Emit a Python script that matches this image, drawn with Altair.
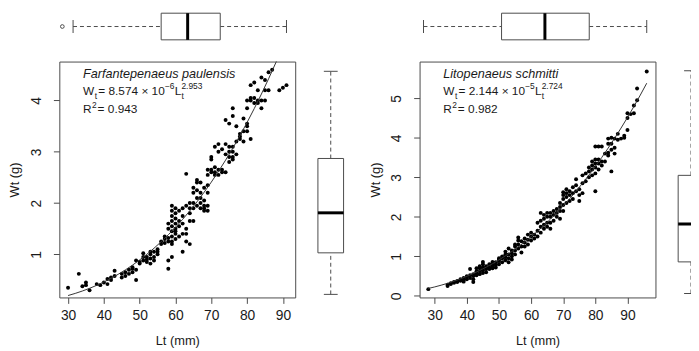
import altair as alt
import pandas as pd

FONT = "Liberation Sans"
INK = "#1a1a1a"
FRAME = "#4a4a4a"

# ---------------- data ----------------
x_ticks = [30, 40, 50, 60, 70, 80, 90]
p1_y_ticks = [1, 2, 3, 4]
p2_y_ticks = [0, 1, 2, 3, 4, 5]

# Farfantepenaeus paulensis : total length (mm) / total weight (g)
p1_lt = [
    30, 33, 34, 35, 35, 36, 38, 39, 40, 41, 41, 42, 42, 43, 43,
    45, 45, 46, 46, 47, 47, 48, 48, 48, 49, 49, 49, 50, 50,
    51, 51, 51, 52, 52, 52, 53, 53, 53, 53, 54, 54, 54, 55, 55, 55,
    56, 56, 57, 57, 57, 58, 58, 58, 58, 58, 58,
    59, 59, 59, 59, 59, 59, 59, 59, 59, 59,
    60, 60, 60, 60, 60, 60, 60, 60,
    61, 61, 61, 61,
    62, 62, 62, 62, 62,
    63, 63, 63, 63, 63,
    64, 64, 64, 64, 64,
    65, 65, 65, 65, 65,
    66, 66, 66, 66, 66,
    67, 67, 67, 67, 67,
    68, 68, 68, 68, 68,
    69, 69, 69, 69, 69, 69,
    70, 70, 70, 70,
    71, 71, 71, 71,
    72, 72, 72, 72,
    73, 73, 73,
    74, 74, 74, 74,
    75, 75, 75, 75, 75,
    76, 76, 76, 76, 76, 76,
    77, 77, 77,
    78, 78, 78,
    79, 79, 79,
    80, 80, 80, 80, 80,
    81, 81, 81, 81,
    82, 82, 82,
    83, 83, 83,
    84, 84, 84,
    85, 85, 85,
    86, 86,
    87, 89, 90, 91,
]
p1_wt = [
    0.35, 0.62, 0.38, 0.45, 0.40, 0.30, 0.42, 0.40, 0.45, 0.42, 0.52, 0.50, 0.55, 0.58, 0.68,
    0.55, 0.62, 0.58, 0.65, 0.62, 0.70, 0.65, 0.75, 0.72, 0.50, 0.70, 0.88, 0.85, 0.82,
    0.88, 0.95, 1.02, 0.90, 0.85, 0.95, 0.82, 0.92, 1.00, 1.05, 0.95, 1.05, 0.88, 1.05, 1.00, 1.10,
    1.20, 1.25, 1.22, 1.30, 1.35, 0.72, 0.88, 1.25, 1.32, 1.50, 1.60,
    0.95, 1.20, 1.25, 1.35, 1.45, 1.55, 1.65, 1.75, 1.85, 1.95,
    1.30, 1.40, 1.45, 1.50, 1.60, 1.70, 1.80, 1.90,
    1.35, 1.55, 1.65, 1.85,
    1.05, 1.40, 1.60, 1.75, 1.90,
    1.25, 1.40, 1.50, 1.95, 2.57,
    1.20, 1.65, 1.80, 1.90, 2.00,
    1.65, 1.90, 2.00, 2.20, 2.30,
    1.95, 2.10, 2.25, 2.40, 2.45,
    1.90, 2.00, 2.10, 2.20, 2.40,
    1.85, 1.90, 1.95, 2.05, 2.30,
    1.85, 1.95, 2.20, 2.35, 2.55, 2.65,
    2.60, 2.65, 2.85, 2.90,
    2.55, 2.60, 2.70, 3.10,
    2.55, 2.65, 3.00, 3.15,
    2.60, 2.65, 3.05,
    2.60, 2.95, 3.15, 3.62,
    2.80, 2.90, 3.00, 3.10, 3.55,
    2.85, 2.90, 3.00, 3.10, 3.70, 3.85,
    2.95, 3.20, 3.50,
    3.25, 3.30, 3.35,
    3.20, 3.40, 3.65,
    3.40, 3.50, 3.55, 3.85, 4.00,
    3.25, 4.00, 4.05, 4.30,
    3.95, 4.05, 4.35,
    3.95, 4.00, 4.20,
    3.85, 4.00, 4.45,
    4.00, 4.20, 4.40,
    4.20, 4.55,
    4.60, 4.20, 4.25, 4.30,
]

# Litopenaeus schmitti
p2_lt = [
    28, 34, 34, 35, 35, 36, 36, 37, 37, 38, 38,
    39, 39, 39, 40, 40, 40, 41, 41, 41,
    42, 42, 42, 42, 43, 43, 43, 43, 44, 44, 44, 44,
    45, 45, 45, 45, 45, 46, 46, 46, 46, 47, 47, 47,
    48, 48, 48, 48, 49, 49, 49, 50, 50, 50, 50,
    51, 51, 51, 52, 52, 52, 52, 53, 53, 53, 53,
    54, 54, 54, 54, 55, 55, 55, 55, 56, 56, 56, 56,
    57, 57, 57, 58, 58, 58, 59, 59, 59, 60, 60, 60,
    61, 61, 62, 62, 62, 63, 63, 63, 63,
    64, 64, 64, 64, 65, 65, 65, 65, 66, 66, 66, 66,
    67, 67, 67, 68, 68, 68, 69, 69, 69, 69,
    70, 70, 70, 70, 70, 71, 71, 71, 71, 72, 72, 72,
    73, 73, 73, 74, 74, 74, 75, 75, 75, 76, 76, 76,
    77, 77, 78, 78, 78, 79, 79, 79, 79,
    80, 80, 80, 80, 80, 80, 81, 81, 81, 81, 82, 82, 82,
    83, 83, 84, 84, 84, 84, 85, 85, 85, 85, 86, 86, 86,
    87, 87, 88, 89, 89, 90, 90, 90, 91, 92, 92, 93, 93, 96,
]
p2_wt = [
    0.17, 0.25, 0.28, 0.30, 0.32, 0.33, 0.35, 0.35, 0.38, 0.38, 0.42,
    0.36, 0.40, 0.45, 0.42, 0.48, 0.50, 0.45, 0.52, 0.68,
    0.35, 0.42, 0.50, 0.55, 0.52, 0.58, 0.62, 0.70, 0.55, 0.62, 0.70, 0.75,
    0.58, 0.65, 0.72, 0.80, 0.86, 0.60, 0.68, 0.70, 0.75, 0.68, 0.72, 0.80,
    0.70, 0.76, 0.82, 0.86, 0.72, 0.78, 0.85, 0.80, 0.88, 0.92, 0.95,
    0.85, 0.95, 1.00, 0.90, 0.98, 1.05, 1.12, 0.85, 0.95, 1.05, 1.20,
    0.92, 1.00, 1.08, 1.15, 1.05, 1.15, 1.25, 1.30, 1.20, 1.30, 1.40, 1.48,
    1.10, 1.25, 1.38, 1.25, 1.35, 1.45, 1.30, 1.42, 1.55, 1.40, 1.50, 1.60,
    1.45, 1.55, 1.50, 1.65, 1.85, 1.60, 1.75, 1.90, 2.10,
    1.70, 1.80, 1.95, 2.05, 1.75, 1.85, 2.00, 2.10, 1.70, 1.85, 2.00, 2.10,
    1.90, 2.05, 2.15, 2.00, 2.10, 2.20, 1.95, 2.15, 2.25, 2.35,
    2.15, 2.30, 2.45, 2.55, 2.62, 2.35, 2.50, 2.60, 2.70, 2.40, 2.55, 2.65,
    2.45, 2.60, 2.75, 2.65, 2.80, 2.95, 2.40, 2.55, 2.70, 2.60, 2.85, 3.05,
    2.90, 3.10, 3.00, 3.15, 3.25, 3.05, 3.20, 3.30, 3.40,
    2.65, 3.10, 3.25, 3.35, 3.45, 3.78, 3.20, 3.35, 3.45, 3.78, 3.30, 3.40, 3.78,
    3.40, 3.60, 3.55, 3.62, 3.85, 3.98, 3.15, 3.70, 3.85, 4.00, 3.60, 3.75, 3.98,
    3.95, 4.10, 3.98, 4.00, 4.05, 4.20, 4.50, 4.62, 4.60, 4.62, 4.82, 4.95, 5.25, 5.68,
]

# fitted length-weight model  Wt = a * Lt^b
p1_a, p1_b = 8.574e-6, 2.953
p2_a, p2_b = 2.144e-5, 2.724
p1_curve_lt = [30, 32, 34, 36, 38, 40, 42, 44, 46, 48, 50, 52, 54, 56, 58, 60, 62, 64,
               66, 68, 70, 72, 74, 76, 78, 80, 82, 84, 86, 88, 90, 91]
p2_curve_lt = [28, 30, 32, 34, 36, 38, 40, 42, 44, 46, 48, 50, 52, 54, 56, 58, 60, 62, 64,
               66, 68, 70, 72, 74, 76, 78, 80, 82, 84, 86, 88, 90, 92, 94, 96]

# boxplot summaries: lower whisker, Q1, median, Q3, upper whisker
p1_lt_box = [31.4, 56.0, 63.4, 72.5, 91.0]
p1_lt_outliers = [28.4]
p1_wt_box = [0.22, 1.03, 1.81, 2.87, 4.57]
p2_lt_box = [26.5, 50.8, 64.3, 78.1, 96.0]
p2_wt_box = [0.06, 0.86, 1.82, 3.05, 5.70]

p1_species = "Farfantepenaeus paulensis"
p1_eq = ["W", "t", "= 8.574 × 10", "−6", "L", "t", "2.953"]
p1_r2 = ["R", "2", "= 0.943"]
p2_species = "Litopenaeus schmitti"
p2_eq = ["W", "t", "= 2.144 × 10", "−5", "L", "t", "2.724"]
p2_r2 = ["R", "2", "= 0.982"]

p1_xdom, p1_ydom = [27.56, 93.44], [0.16, 4.76]
p2_xdom, p2_ydom = [25.28, 98.72], [-0.04, 5.93]

# ---------------- layout / style ----------------
W = 239
H = 239
TOP_H = 33
RB1_W = 94   # column holding the first vertical boxplot (also sets gap to panel 2)
RB2_W = 20   # last column, cut at the page edge

EQ_LAYOUT = [(0, 0, 12), (12.0, 3.5, 8.5), (15.5, 0, 12), (83.0, -6.5, 8.5),
             (92.9, 0, 12), (99.7, 3.5, 8.5), (99.7, -6.5, 8.5)]
R2_LAYOUT = [(0, 0, 12), (9.0, -4.5, 8.5), (14.8, 0, 12)]
TX = 24
ROW_Y = [17, 34, 52]


def axis_x():
    return alt.Axis(values=x_ticks, title="Lt (mm)", grid=False, domain=False,
                    tickSize=6, tickColor=FRAME, tickWidth=1, labelFlush=False,
                    labelOverlap=False, tickCount=7,
                    labelFont=FONT, labelFontSize=14, labelColor=INK, labelPadding=5,
                    titleFont=FONT, titleFontSize=13, titleFontWeight="normal",
                    titleColor=INK, titlePadding=13)


def axis_y(vals):
    return alt.Axis(values=vals, title="Wt (g)", grid=False, domain=False,
                    tickSize=6, tickColor=FRAME, tickWidth=1, labelFlush=False,
                    labelOverlap=False, tickCount=len(vals),
                    labelAngle=270, labelAlign="center", labelBaseline="bottom",
                    labelFont=FONT, labelFontSize=14, labelColor=INK, labelPadding=10,
                    titleFont=FONT, titleFontSize=13, titleFontWeight="normal",
                    titleColor=INK, titlePadding=8)


def text_seg(txt, x, y, size, dx=0, dy=0, italic=False):
    return alt.Chart(pd.DataFrame({"t": [txt]})).mark_text(
        align="left", baseline="alphabetic", font=FONT, fontSize=size,
        fontStyle="italic" if italic else "normal", color=INK, dx=dx, dy=dy
    ).encode(x=alt.value(x), y=alt.value(y), text="t:N")


def scatter(lt, wt, xdom, ydom, yticks, a, b, curve_lt, species, eq, r2):
    xs = alt.Scale(domain=xdom, nice=False, zero=False, padding=0)
    ys = alt.Scale(domain=ydom, nice=False, zero=False, padding=0)
    pts = alt.Chart(pd.DataFrame({"Lt": lt, "Wt": wt})).mark_circle(
        size=16, color="black", opacity=1).encode(
        x=alt.X("Lt:Q", scale=xs, axis=axis_x()),
        y=alt.Y("Wt:Q", scale=ys, axis=axis_y(yticks)))
    crv = alt.Chart(pd.DataFrame({"Lt": curve_lt})).transform_calculate(
        Wt=f"{a} * pow(datum.Lt, {b})").mark_line(
        color="#333333", strokeWidth=1, clip=True).encode(
        x=alt.X("Lt:Q", scale=xs, axis=axis_x()),
        y=alt.Y("Wt:Q", scale=ys, axis=axis_y(yticks)))
    texts = [text_seg(species, TX, ROW_Y[0], 12.8, italic=True)]
    for part, (dx, dy, sz) in zip(eq, EQ_LAYOUT):
        texts.append(text_seg(part, TX, ROW_Y[1], sz, dx=dx, dy=dy))
    for part, (dx, dy, sz) in zip(r2, R2_LAYOUT):
        texts.append(text_seg(part, TX, ROW_Y[2], sz, dx=dx, dy=dy))
    return alt.layer(pts, crv, *texts).properties(
        width=W, height=H, view=alt.ViewBackground(stroke=FRAME, strokeWidth=1))


def hbox(stats, outl, xdom):
    lo, q1, md, q3, hi = stats
    xs = alt.Scale(domain=xdom, nice=False, zero=False, padding=0)
    ys = alt.Scale(domain=[0, 1], nice=False, zero=False, padding=0)
    d = pd.DataFrame({"lo": [lo], "q1": [q1], "md": [md], "q3": [q3], "hi": [hi], "pos": [0.5]})
    base = alt.Chart(d)
    Y = alt.Y("pos:Q", scale=ys, axis=None)

    def X(f):
        return alt.X(f"{f}:Q", scale=xs, axis=None)

    layers = [
        base.mark_rule(color=FRAME, strokeDash=[4, 3], strokeWidth=1).encode(x=X("lo"), x2="q1:Q", y=Y),
        base.mark_rule(color=FRAME, strokeDash=[4, 3], strokeWidth=1).encode(x=X("q3"), x2="hi:Q", y=Y),
        base.mark_tick(orient="vertical", size=13, thickness=1, color=FRAME, opacity=1).encode(x=X("lo"), y=Y),
        base.mark_tick(orient="vertical", size=13, thickness=1, color=FRAME, opacity=1).encode(x=X("hi"), y=Y),
        base.mark_bar(size=27, fill="white", stroke=FRAME, strokeWidth=1).encode(x=X("q1"), x2="q3:Q", y=Y),
        base.mark_tick(orient="vertical", size=27, thickness=3, color="black", opacity=1).encode(x=X("md"), y=Y),
    ]
    if outl:
        od = pd.DataFrame({"v": outl, "pos": [0.5] * len(outl)})
        layers.append(alt.Chart(od).mark_point(shape="circle", filled=False, size=14,
                                               color=FRAME, strokeWidth=1, opacity=1)
                      .encode(x=X("v"), y=Y))
    return alt.layer(*layers).properties(width=W, height=TOP_H,
                                         view=alt.ViewBackground(strokeWidth=0))


def vbox(stats, ydom, width, xmax, clip=False):
    lo, q1, md, q3, hi = stats
    ys = alt.Scale(domain=ydom, nice=False, zero=False, padding=0)
    xs = alt.Scale(domain=[0, xmax], nice=False, zero=False, padding=0)
    d = pd.DataFrame({"lo": [lo], "q1": [q1], "md": [md], "q3": [q3], "hi": [hi], "pos": [1.0]})
    base = alt.Chart(d)
    X = alt.X("pos:Q", scale=xs, axis=None)

    def Y(f):
        return alt.Y(f"{f}:Q", scale=ys, axis=None)

    layers = [
        base.mark_rule(color=FRAME, strokeDash=[4, 3], strokeWidth=1, clip=clip).encode(y=Y("lo"), y2="q1:Q", x=X),
        base.mark_rule(color=FRAME, strokeDash=[4, 3], strokeWidth=1, clip=clip).encode(y=Y("q3"), y2="hi:Q", x=X),
        base.mark_tick(orient="horizontal", size=14, thickness=1, color=FRAME, opacity=1, clip=clip).encode(y=Y("lo"), x=X),
        base.mark_tick(orient="horizontal", size=14, thickness=1, color=FRAME, opacity=1, clip=clip).encode(y=Y("hi"), x=X),
        base.mark_bar(size=26, fill="white", stroke=FRAME, strokeWidth=1, clip=clip).encode(y=Y("q1"), y2="q3:Q", x=X),
        base.mark_tick(orient="horizontal", size=26, thickness=3, color="black", opacity=1, clip=clip).encode(y=Y("md"), x=X),
    ]
    return alt.layer(*layers).properties(width=width, height=H,
                                         view=alt.ViewBackground(strokeWidth=0))


def blank(width, height):
    return alt.Chart(pd.DataFrame({"t": [""]})).mark_text().encode(text="t:N").properties(
        width=width, height=height, view=alt.ViewBackground(strokeWidth=0))


sc1 = scatter(p1_lt, p1_wt, p1_xdom, p1_ydom, p1_y_ticks, p1_a, p1_b, p1_curve_lt,
              p1_species, p1_eq, p1_r2)
sc2 = scatter(p2_lt, p2_wt, p2_xdom, p2_ydom, p2_y_ticks, p2_a, p2_b, p2_curve_lt,
              p2_species, p2_eq, p2_r2)
top1 = hbox(p1_lt_box, p1_lt_outliers, p1_xdom)
top2 = hbox(p2_lt_box, [], p2_xdom)
rb1 = vbox(p1_wt_box, p1_ydom, RB1_W, RB1_W / 20.0)
rb2 = vbox(p2_wt_box, p2_ydom, RB2_W, 1.0, clip=True)

chart = alt.concat(
    top1, blank(RB1_W, TOP_H), top2, blank(RB2_W, TOP_H),
    sc1, rb1, sc2, rb2,
    columns=4, spacing={"row": 19, "column": 16}, bounds="flush",
).properties(
    padding={"left": 0, "top": 0, "right": 0, "bottom": 0},
    background="white",
).configure_view(strokeWidth=0).configure_axis(labelOverlap=False)

chart.save("out.html", embed_options={"renderer": "svg", "actions": False})
